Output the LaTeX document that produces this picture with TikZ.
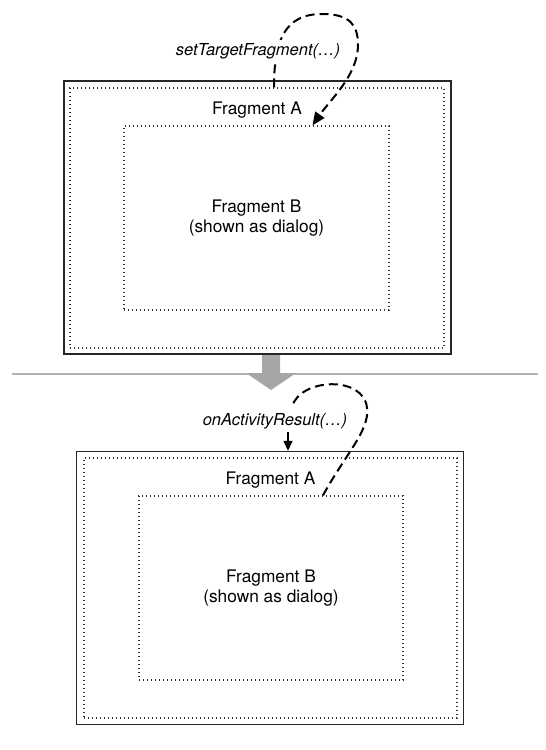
\documentclass[tikz,border=0pt]{standalone}
\usepackage{fontspec}
\setmainfont{TeX Gyre Heros}
\usetikzlibrary{positioning, arrows.meta}

\tikzset{
  frame/.style={draw=black!85, line width=1.4pt, minimum width=387pt, minimum height=273pt, inner sep=0pt},
  dotbox/.style={draw=black!80, line width=1.3pt, dash pattern=on 1.3pt off 2.7pt, inner sep=0pt},
  txt/.style={font=\fontsize{17.3}{20.5}\selectfont, align=center},
  call/.style={font=\fontsize{16.5}{20}\selectfont\itshape, fill=white, inner sep=3pt},
  loopline/.style={line width=2pt, dash pattern=on 9pt off 5pt},
  sep/.style={draw=black!30, line width=2pt},
}

\begin{document}
\begin{tikzpicture}[x=1pt, y=-1pt]
    \useasboundingbox (0,0) rectangle (546,750);

    % Before: Fragment A holds Fragment B
    \node[frame] (outA1) at (257.5,217.5) {};
    \node[dotbox, minimum width=374pt, minimum height=260pt] (fragA1) at (257,218) {};
    \node[dotbox, minimum width=265pt, minimum height=184pt] (fragB1) at (256.5,218) {};
    \node[txt, anchor=base] (tA1) at ([yshift=-27pt]fragA1.north) {Fragment A};
    \node[txt] (tB1) at (fragB1.center) {Fragment B\\(shown as dialog)};

    % setTargetFragment loop
    \coordinate (s1) at ([xshift=17pt]fragA1.north);
    \coordinate (e1) at ([xshift=56pt]fragB1.north);
    \draw[loopline, -{Triangle[length=13pt,width=11pt]}] (s1) .. controls (274,40) and (285,14) .. (322,14)
        .. controls (350,14) and (358,25) .. (358,45) .. controls (358,75) and (330,100) .. (e1);
    \node[call, anchor=base] (call1) at (258,55) {setTargetFragment(…)};

    % Separator and transition arrow
    \draw[sep] (12,373.5) -- (538,373.5);
    \fill[black!35] (262,355) -- (280,355) -- (280,373) -- (296,373) -- (271,390)
        -- (246,373) -- (262,373) -- cycle;

    % After: result goes back to Fragment A
    \node[frame] (outA2) at (270,588) {};
    \node[dotbox, minimum width=373pt, minimum height=260pt] (fragA2) at (270.5,588) {};
    \node[dotbox, minimum width=264pt, minimum height=184pt] (fragB2) at (271,588) {};
    \node[txt, anchor=base] (tA2) at ([yshift=-27pt]fragA2.north) {Fragment A};
    \node[txt] (tB2) at (fragB2.center) {Fragment B\\(shown as dialog)};

    % onActivityResult loop
    \node[call, anchor=base] (call2) at (275,425) {onActivityResult(…)};
    \coordinate (s2) at ([xshift=52pt]fragB2.north);
    \draw[loopline] (s2) .. controls (345,455) and (370,430) .. (367,408)
        .. controls (364,375) and (300,378) .. ([xshift=17pt,yshift=3pt]call2.north);
    \draw[line width=1.5pt, -{Triangle[length=10pt,width=9pt]}] ([xshift=13pt]call2.south)
        -- ([xshift=13pt]call2.south |- outA2.north);
\end{tikzpicture}
\end{document}
